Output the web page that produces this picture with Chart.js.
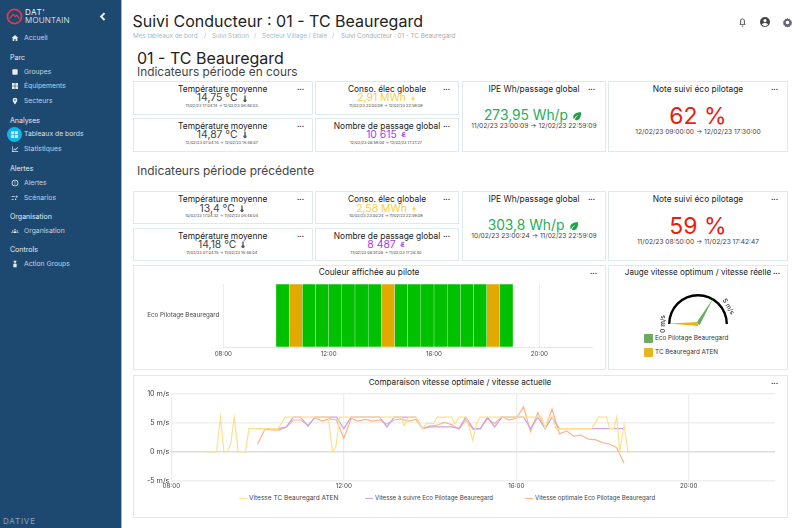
<!DOCTYPE html>
<html lang="fr">
<head>
<meta charset="utf-8">
<title>Suivi Conducteur</title>
<script src="https://cdn.jsdelivr.net/npm/chart.js@4/dist/chart.umd.js"></script>
<style>
  html, body { margin: 0; width: 800px; height: 528px; overflow: hidden; background: #fff; font-family: Inter, "Open Sans", sans-serif; color: #222; }
  .t { position: absolute; white-space: nowrap; line-height: 1; }
  .c { transform: translateX(-50%); }
  .card { position: absolute; box-sizing: border-box; border: 1.2px solid #dfeaee; background: #fff; }
  canvas { position: absolute; }
  #side { position: absolute; left: 0; top: 0; width: 121px; height: 528px; background: #1d4870; border-right: 1.5px solid #9fb0ea; }
  .ic { position: absolute; }
  .ic svg { display: block; }
</style>
</head>
<body>
<div id="side"></div>
<div id="main"></div>
<canvas id="pilotChart" width="472" height="103" style="left:133px;top:266px"></canvas>
<canvas id="gaugeChart" width="120" height="60" style="left:640px;top:280px"></canvas>
<canvas id="speedChart" width="654" height="118" style="left:133px;top:377px"></canvas>
<script>
// --- data ---
const pilotHours = [10, 10.5, 11, 11.5, 12, 12.5, 13, 13.5, 14, 14.5, 15, 15.5, 16, 16.5, 17, 17.5, 18, 18.5, 19];
const pilotStates = ['g', 'o', 'g', 'g', 'g', 'g', 'g', 'g', 'o', 'g', 'g', 'g', 'g', 'g', 'g', 'g', 'o', 'g'];
const pilotCategory = ['Eco Pilotage Beauregard'];

const gaugeSeries = ['Eco Pilotage Beauregard', 'TC Beauregard ATEN'];
const gaugeValues = [4.02, 0.03];
const gaugeMax = 6;
const gaugeTicks = [0, 5];

const tcHours = [8.80, 9.05, 9.14, 9.22, 9.30, 9.38, 9.46, 9.55, 9.72, 9.80, 10.48, 10.64, 11.64, 11.74, 11.82, 11.90, 13.34, 13.40, 13.50, 13.67, 13.83, 13.92, 14.08, 14.17, 14.50, 14.58, 14.67, 14.84, 14.99, 15.08, 15.16, 16.59, 16.67, 16.75, 16.84, 16.92, 17.75, 17.91, 18.09, 18.17, 18.26, 18.33, 18.40, 18.50, 18.59, 18.67];
const tcSpeed = [0, 0, 6, 0, 0, 1.5, 6, 0, 0, 4, 4, 6, 6, 0, 1, 6, 6, 4.5, 6, 6, 4, 4.9, 4.9, 6, 6, 4.9, 6, 6, 2, 4.9, 6, 6, 4, 6, 6, 4, 4, 6, 6, 4, 4, 6, 0, 4.6, 0, 0];

const stepHours = [10.00, 10.17, 10.33, 10.50, 10.67, 10.83, 11.00, 11.17, 11.33, 11.50, 11.67, 11.83, 12.00, 12.17, 12.33, 12.50, 12.67, 12.83, 13.00, 13.17, 13.33, 13.50, 13.67, 13.83, 14.00, 14.17, 14.33, 14.50, 14.67, 14.83, 15.00, 15.17, 15.33, 15.50, 15.67, 15.83, 16.00, 16.17, 16.33, 16.50, 16.67, 16.83, 17.00, 17.17, 17.33, 17.50, 17.67, 17.83, 18.00, 18.17, 18.33, 18.50];
const targetSpeed = [4, 4, 4, 4, 4.3, 6, 6, 4.4, 6, 6, 6, 6, 4, 6, 6, 6, 6, 6, 4.3, 6, 6, 6, 6, 4, 4.3, 4.3, 4.3, 4.3, 4, 6, 4, 4, 6, 4.3, 6, 6, 6, 6, 4, 6, 4, 6, 4, 4, 4, 4, 4, 4, 4, 4, 4, 4];
const optimalSpeed = [1.3, 3.9, 3.8, 3.75, 4.3, 5.5, 5.5, 4.6, 5.9, 5.3, 5.7, 5.5, 2.3, 5.8, 5.3, 5.6, 5.3, 5.5, 4.8, 5.5, 5.7, 5.3, 5.6, 4, 4.5, 4.6, 5.1, 4.7, 3.9, 5.5, 3.9, 4, 5.7, 4.9, 6.1, 5.5, 5.8, 7.8, 3.5, 6.8, 4, 7.4, 3.1, 3.6, 2.7, 2.9, 2.2, 2.1, 1.6, 1.3, 0.7, -2];

const seriesNames = ['Vitesse TC Beauregard ATEN', 'Vitesse à suivre Eco Pilotage Beauregard', 'Vitesse optimale Eco Pilotage Beauregard'];
const speedTicks = [-5, 0, 5, 10];

const YELLOW = '#ffdf8c', PURPLE = '#c9a5e2', ORANGE = '#ffb488';
const GREEN_BAR = '#00c000', ORANGE_BAR = '#e2a900';
const GAUGE_GREEN = '#6cab60', GAUGE_ORANGE = '#e7b520';

// --- page furniture ---
const main = document.getElementById('main');
const side = document.getElementById('side');

function text(parent, str, x, y, size, color, extra) {
  const d = document.createElement('div');
  d.className = 't' + (extra && extra.center ? ' c' : '');
  d.textContent = str;
  d.style.cssText = `left:${x}px;top:${y - size / 2}px;font-size:${size}px;color:${color};` + (extra && extra.css || '');
  parent.appendChild(d);
  return d;
}

function svg(parent, x, y, size, body, color) {
  const d = document.createElement('div');
  d.className = 'ic';
  d.style.cssText = `left:${x - size / 2}px;top:${y - size / 2}px;width:${size}px;height:${size}px;color:${color}`;
  d.innerHTML = `<svg viewBox="0 0 24 24" width="${size}" height="${size}" fill="currentColor" stroke="none">${body}</svg>`;
  parent.appendChild(d);
}

function box(x0, y0, x1, y1) {
  const d = document.createElement('div');
  d.className = 'card';
  d.style.cssText = `left:${x0}px;top:${y0}px;width:${x1 - x0}px;height:${y1 - y0}px`;
  main.appendChild(d);
}

const ICON_THERMO = '<path d="M10 3a2 2 0 0 1 4 0v10a4.5 4.5 0 1 1-4 0z"/>';
const ICON_BOLT = '<path d="M13 2 6 13h5l-1 9 8-12h-5z"/>';
const ICON_LEAF = '<path d="M22 3C10 3 3 7 3 15c0 2 1 4 2 5 2-6 6-9 11-11-4 3-7 6-9 12 1 .5 3 1 4 1 8 0 11-9 11-19z"/>';
const ICON_PEOPLE = '<path d="M7 4h9v3h-6v2h5v3h-5v2h6v3H7v-3H4v-2h3v-2H4V9h3z"/>';

function kpi(x0, y0, x1, y1, titleX, dotsX, title, value, color, dates, icon) {
  box(x0, y0, x1, y1);
  text(main, title, titleX, y0 + 8.3, 8.4, '#222', { center: true });
  text(main, '...', dotsX, y0 + 6.5, 7, '#333', { css: 'font-weight:700' });
  const v = text(main, value, titleX - 5.5, y0 + 17.5, 10.4, color, { center: true });
  svg(main, titleX - 5.5 + v.offsetWidth / 2 + 7, y0 + 17.5, 8, icon, color === '#444' ? '#555' : color);
  text(main, dates, titleX - 1, y0 + 25, 3.9, '#444', { center: true });
}

function bigKpi(x0, y0, x1, y1, titleX, dotsX, title, value, color, dates, valX, valY, size, dateY, icon) {
  box(x0, y0, x1, y1);
  text(main, title, titleX, y0 + 8.3, 8.4, '#222', { center: true });
  text(main, '...', dotsX, y0 + 6.5, 7, '#333', { css: 'font-weight:700' });
  const v = text(main, value, valX, y0 + valY, size, color, { center: true });
  if (icon) svg(main, valX + v.offsetWidth / 2 + 9, y0 + valY, 10, icon, '#1ea24a');
  text(main, dates, titleX, y0 + dateY, 6.65, '#444', { center: true });
}

text(main, 'Suivi Conducteur : 01 - TC Beauregard', 132.5, 20.5, 16, '#222');
text(main, 'Mes tableaux de bord', 133, 36.5, 6.3, '#9fbccb');
text(main, '/', 204, 36.5, 6.3, '#9fbccb');
text(main, 'Suivi Station', 212, 36.5, 6.3, '#9fbccb');
text(main, '/', 254, 36.5, 6.3, '#9fbccb');
text(main, 'Secteur Village / Étale', 262, 36.5, 6.3, '#9fbccb');
text(main, '/', 332, 36.5, 6.3, '#9fbccb');
text(main, 'Suivi Conducteur : 01 - TC Beauregard', 341, 36.5, 6.3, '#aaa');
text(main, '01 - TC Beauregard', 137, 58, 16, '#222');
text(main, 'Indicateurs période en cours', 137, 73, 11.85, '#444');
text(main, 'Indicateurs période précédente', 137, 171, 11.95, '#444');

// header icons
svg(main, 742, 22, 11, '<path d="M12 3a5 5 0 0 0-5 5v6l-2 3h14l-2-3V8a5 5 0 0 0-5-5zm0 2a3 3 0 0 1 3 3v7H9V8a3 3 0 0 1 3-3zM10 19h4a2 2 0 0 1-4 0z"/>', '#444');
svg(main, 765, 22, 12, '<path fill-rule="evenodd" d="M12 2a10 10 0 1 0 0 20 10 10 0 0 0 0-20zm0 4a3.2 3.2 0 1 1 0 6.400A3.200 3.200 0 0 1 12 6zm0 14c-2.600 0-5-1.200-6-3 .7-2 3.500-3 6-3s5.300 1 6 3c-1 1.800-3.400 3-6 3z"/>', '#444');
svg(main, 787, 22, 11, '<path fill-rule="evenodd" d="M12 2l2 2.500 3-.5 1 3 3 1-.5 3 2 1.500-2 2 .5 3-3 1-1 3-3-.5-2 2-2-2-3 .5-1-3-3-1 .5-3-2-2 2-1.500L3 8l3-1 1-3 3 .5zm0 6a4 4 0 1 0 0 8 4 4 0 0 0 0-8z"/>', '#667');

// current period
kpi(132.5, 81, 312.7, 114.6, 222.7, 297, 'Température moyenne', '14,75 °C', '#444', '11/02/23 17:04:14 → 12/02/23 06:48:03', ICON_THERMO);
kpi(132.5, 117.6, 312.7, 151.7, 222.7, 297, 'Température moyenne', '14,87 °C', '#444', '12/02/23 07:04:14 → 12/02/23 16:48:07', ICON_THERMO);
kpi(315, 81, 459, 114.6, 387, 443, 'Conso. élec globale', '2,91 MWh', '#f7ce45', '11/02/23 23:00:09 → 12/02/23 22:59:09', ICON_BOLT);
kpi(315, 117.6, 459, 151.7, 387, 443, 'Nombre de passage global', '10 615', '#a33cf5', '12/02/23 08:59:08 → 12/02/23 17:21:27', ICON_PEOPLE);
bigKpi(462.3, 81, 605.7, 151.7, 534, 588, 'IPE Wh/passage global', '273,95 Wh/p', '#1eae55', '11/02/23 23:00:09 → 12/02/23 22:59:09', 526, 35.3, 13.8, 45.3, ICON_LEAF);
bigKpi(608, 81, 788, 151.7, 698, 771, 'Note suivi éco pilotage', '62 %', '#f01a10', '12/02/23 09:00:00 → 12/02/23 17:30:00', 698, 35.7, 23, 51.7);

// previous period
kpi(132.5, 191.3, 312.7, 224, 222.7, 297, 'Température moyenne', '13,4 °C', '#444', '10/02/23 17:04:32 → 11/02/23 06:48:04', ICON_THERMO);
kpi(132.5, 227.7, 312.7, 261.3, 222.7, 297, 'Température moyenne', '14,18 °C', '#444', '11/02/23 07:04:15 → 11/02/23 16:48:04', ICON_THERMO);
kpi(315, 191.3, 459, 224, 387, 443, 'Conso. élec globale', '2,58 MWh', '#f7ce45', '10/02/23 23:00:24 → 11/02/23 22:59:09', ICON_BOLT);
kpi(315, 227.7, 459, 261.3, 387, 443, 'Nombre de passage global', '8 487', '#a33cf5', '11/02/23 08:51:08 → 11/02/23 17:28:40', ICON_PEOPLE);
bigKpi(462.3, 191.3, 605.7, 261.3, 534, 588, 'IPE Wh/passage global', '303,8 Wh/p', '#1eae55', '10/02/23 23:00:24 → 11/02/23 22:59:09', 526, 34.7, 13.8, 45.4, ICON_LEAF);
bigKpi(608, 191.3, 788, 261.3, 698, 771, 'Note suivi éco pilotage', '59 %', '#f01a10', '11/02/23 08:50:00 → 11/02/23 17:42:47', 698, 34.7, 23, 51);

// chart cards
box(132.5, 264.7, 605.7, 370);
text(main, 'Couleur affichée au pilote', 369, 272.5, 8.3, '#222', { center: true });
text(main, '...', 590, 271, 7, '#333', { css: 'font-weight:700' });
box(608, 264.7, 788, 370);
text(main, 'Jauge vitesse optimum / vitesse réelle', 698, 272.5, 8.1, '#222', { center: true });
text(main, '...', 773, 271, 7, '#333', { css: 'font-weight:700' });
box(132.5, 375, 788, 517.7);
text(main, 'Comparaison vitesse optimale / vitesse actuelle', 460, 382, 8.15, '#222', { center: true });
text(main, '...', 771, 381, 7, '#333', { css: 'font-weight:700' });

// hand-placed legends
const legendX = [[239, 249], [365, 375], [525, 535]];
const legendSize = [6.5, 6.1, 6.1];
[YELLOW, PURPLE, ORANGE].forEach((col, i) => {
  const s = document.createElement('div');
  s.style.cssText = `position:absolute;left:${legendX[i][0]}px;top:497.5px;width:8px;height:1.2px;background:${col}`;
  main.appendChild(s);
  text(main, seriesNames[i], legendX[i][1], 498, legendSize[i], '#444');
});
[[334, GAUGE_GREEN], [348, GAUGE_ORANGE]].forEach((row, i) => {
  const s = document.createElement('div');
  s.style.cssText = `position:absolute;left:644px;top:${row[0]}px;width:9px;height:9px;background:${row[1]};border-radius:1px`;
  main.appendChild(s);
  text(main, gaugeSeries[i], 655, row[0] + 4.5, 6.3, '#333');
});

// --- sidebar ---
side.innerHTML = `<svg style="position:absolute;left:6px;top:8px" width="17" height="17" viewBox="0 0 24 24" fill="none" stroke="#e23b52" stroke-width="2.4"><circle cx="12" cy="12" r="10"/><path d="M5 15l5-6 3 3 2-2 4 5" stroke-width="1.800"/></svg>`;
text(side, "DAT'", 25, 11.5, 8, '#f4f6f8', { css: 'letter-spacing:.6px' });
text(side, 'MOUNTAIN', 25, 20, 8, '#f4f6f8', { css: 'letter-spacing:.2px;font-weight:300' });
text(side, 'DATIVE', 3, 521, 8, '#8fa3b8', { css: 'letter-spacing:.8px' });
svg(side, 102, 16, 11, '<path d="M15 3 6 12l9 9 3-3-6-6 6-6z"/>', '#f0f4f8');

const dotIcon = '<rect x="4" y="4" width="16" height="16" rx="3"/>';
const sideItems = [
  ['Accueil', 38, '<path d="M12 3 2 12h3v9h5v-6h4v6h5v-9h3z"/>'], ['Parc', 57], ['Groupes', 72, dotIcon],
  ['Équipements', 86, '<path d="M3 3h8v8H3zM13 3h8v8h-8zM3 13h8v8H3zM13 13h8v8h-8z"/>'],
  ['Secteurs', 101, '<path fill-rule="evenodd" d="M12 2a7 7 0 0 0-7 7c0 5 7 13 7 13s7-8 7-13a7 7 0 0 0-7-7zm0 4.500a2.500 2.500 0 1 1 0 5 2.500 2.500 0 0 1 0-5z"/>'],
  ['Analyses', 120], ['Tableaux de bords', 134], ['Statistiques', 149, '<path d="M3 4h2v15h16v2H3zM7 15l4-5 3 3 6-7 1.500 1.200L14 16l-3-3-3 4z"/>'],
  ['Alertes', 168], ['Alertes', 183, '<path fill-rule="evenodd" d="M12 2a10 10 0 1 0 0 20 10 10 0 0 0 0-20zm0 2.500a7.500 7.500 0 1 1 0 15 7.500 7.500 0 0 1 0-15zM11 7h2v6h-2zm0 7.500h2v2h-2z"/>'],
  ['Scénarios', 198, '<path d="M2 7h11v2H2zM2 15h6v2H2zM16 4l5 4-5 4zM12 13l5 3-5 3z"/>'], ['Organisation', 216],
  ['Organisation', 231, '<path d="M12 6a2.500 2.500 0 1 1 0 5 2.500 2.500 0 0 1 0-5zM5 10a2 2 0 1 1 0 4 2 2 0 0 1 0-4zM19 10a2 2 0 1 1 0 4 2 2 0 0 1 0-4zM7 18c0-3 2-5 5-5s5 2 5 5zM1 18c0-2 1-3 3-3l1 3zM23 18c0-2-1-3-3-3l-1 3z"/>'],
  ['Controls', 249], ['Action Groups', 264, '<path d="M8 2h8v4H8zM9 7h6v3H9zM7 11h10v11H7z"/>']
];
sideItems.forEach(it => {
  if (it[2]) {
    text(side, it[0], 24, it[1], 6.8, '#c5d3e0');
    svg(side, 15, it[1], 8, it[2], '#e6edf3');
  } else if (it[0] === 'Tableaux de bords') {
    side.insertAdjacentHTML('beforeend', `<div style="position:absolute;left:7px;top:127px;width:15px;height:15px;border-radius:50%;background:#13b6e8"></div>`);
    svg(side, 14.500, 134.500, 9, '<path d="M3 3h8v8H3zM13 3h8v8h-8zM3 13h8v8H3zM13 13h8v8h-8z"/>', '#dbe9f2');
    text(side, it[0], 24, it[1], 6.8, '#d5e0ea');
  } else {
    text(side, it[0], 10, it[1], 7, '#e8eef4');
  }
});

// --- charts ---
Chart.defaults.font.family = 'Inter, "Open Sans", sans-serif';
Chart.defaults.animation = false;

const hourLabel = v => String(v).padStart(2, '0') + ':00';

new Chart(document.getElementById('pilotChart'), {
  type: 'bar',
  data: {
    labels: pilotCategory,
    datasets: pilotStates.map((s, i) => ({
      data: [[pilotHours[i], pilotHours[i + 1]]],
      backgroundColor: s === 'g' ? GREEN_BAR : ORANGE_BAR,
      borderColor: 'rgba(255,255,255,.12)',
      borderWidth: 0.5,
      borderSkipped: false,
      grouped: false,
      barPercentage: 1,
      categoryPercentage: 1
    }))
  },
  options: {
    indexAxis: 'y',
    responsive: false,
    layout: { padding: { top: 18, right: 13 } },
    plugins: { legend: { display: false }, tooltip: { enabled: false } },
    scales: {
      x: {
        type: 'linear', min: 8, max: 22,
        afterFit: s => { s.height = 22; },
        grid: { color: '#eeeeee', drawTicks: false },
        border: { color: '#e6e6e6' },
        ticks: { stepSize: 4, includeBounds: false, callback: hourLabel, font: { size: 6.2 }, color: '#444', padding: 3, maxRotation: 0 }
      },
      y: {
        afterFit: s => { s.width = 90.3; },
        grid: { display: false, drawTicks: false },
        border: { display: false },
        ticks: { font: { size: 6.2 }, color: '#444', padding: 4 }
      }
    }
  }
});

// needles and tick labels of the gauge
const gaugeNeedles = {
  id: 'gaugeNeedles',
  afterDatasetsDraw(chart) {
    const arc = chart.getDatasetMeta(0).data[0];
    const ctx = chart.ctx;
    const ang = v => Math.PI + v / gaugeMax * Math.PI;
    [[gaugeValues[0], GAUGE_GREEN], [gaugeValues[1], GAUGE_ORANGE]].forEach(n => {
      const a = ang(n[0]);
      ctx.fillStyle = n[1];
      ctx.beginPath();
      ctx.moveTo(arc.x + Math.cos(a) * arc.outerRadius, arc.y + Math.sin(a) * arc.outerRadius);
      ctx.lineTo(arc.x + Math.cos(a + Math.PI / 2) * 2, arc.y + Math.sin(a + Math.PI / 2) * 2);
      ctx.lineTo(arc.x + Math.cos(a - Math.PI / 2) * 2, arc.y + Math.sin(a - Math.PI / 2) * 2);
      ctx.fill();
    });
    gaugeTicks.forEach(t => {
      const a = ang(t);
      ctx.save();
      ctx.translate(arc.x + Math.cos(a) * (arc.outerRadius + 5), arc.y + Math.sin(a) * (arc.outerRadius + 5));
      ctx.rotate(a + Math.PI / 2);
      ctx.fillStyle = '#333';
      ctx.font = '500 6.5px Inter';
      ctx.textAlign = 'center';
      ctx.textBaseline = 'middle';
      ctx.fillText(t + ' m/s', 0, 0);
      ctx.restore();
    });
  }
};

new Chart(document.getElementById('gaugeChart'), {
  type: 'doughnut',
  data: { labels: ['gauge'], datasets: [{ data: [gaugeMax], backgroundColor: '#000', borderWidth: 0 }] },
  options: {
    responsive: false,
    rotation: -90,
    circumference: 180,
    cutout: '92%',
    layout: { padding: { left: 28, right: 32, top: 14, bottom: 16 } },
    plugins: { legend: { display: false }, tooltip: { enabled: false } }
  },
  plugins: [gaugeNeedles]
});

const pts = (xs, ys) => xs.map((x, i) => ({ x, y: ys[i] }));
const lineStyle = { borderWidth: 1.2, pointRadius: 0, tension: 0, fill: false };

new Chart(document.getElementById('speedChart'), {
  type: 'line',
  data: {
    datasets: [
      { label: seriesNames[0], data: pts(tcHours, tcSpeed), borderColor: YELLOW, ...lineStyle },
      { label: seriesNames[1], data: pts(stepHours, targetSpeed), borderColor: PURPLE, ...lineStyle },
      { label: seriesNames[2], data: pts(stepHours, optimalSpeed), borderColor: ORANGE, ...lineStyle }
    ]
  },
  options: {
    responsive: false,
    layout: { padding: { top: 17, right: 12 } },
    plugins: { legend: { display: false }, tooltip: { enabled: false } },
    scales: {
      x: {
        type: 'linear', min: 8, max: 22,
        afterFit: s => { s.height = 14.3; },
        grid: { color: '#eeeeee', lineWidth: 1.3, drawTicks: false },
        border: { display: false },
        ticks: { stepSize: 4, includeBounds: false, callback: hourLabel, font: { size: 6.3 }, color: '#444', padding: 2, maxRotation: 0 }
      },
      y: {
        min: speedTicks[0], max: speedTicks[3],
        afterFit: s => { s.width = 38.3; },
        grid: { color: c => c.tick.value === 0 ? '#dddddd' : '#efefef', lineWidth: c => c.tick.value === 0 ? 1.6 : 1.4, drawTicks: false },
        border: { display: false },
        ticks: { stepSize: 5, callback: v => v + ' m/s', font: { size: 7.2 }, color: '#444', padding: 2 }
      }
    }
  }
});
</script>
</body>
</html>
